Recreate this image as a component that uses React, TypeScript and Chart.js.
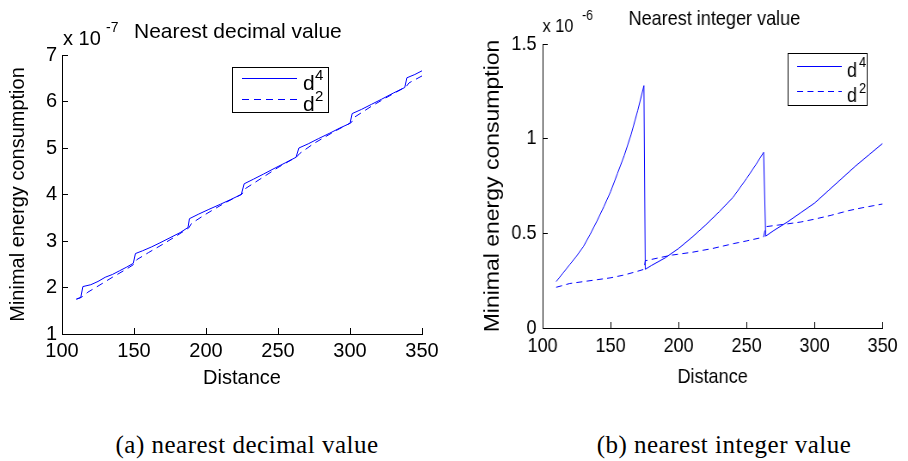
import React, { useEffect, useRef } from "react";
import { Chart, registerables } from "chart.js";

Chart.register(...registerables);

const SANS = '"Liberation Sans", Arial, Helvetica, sans-serif';
const SERIF = '"Liberation Serif", "Times New Roman", Times, serif';
const BLUE = "rgb(0,0,255)";

// Shared distance axis
const distTicks = [100, 150, 200, 250, 300, 350];

// (a) nearest decimal value — energy in units of 1e-7
const decDistD4 = [110, 113, 114.5, 120, 125, 130, 135, 140, 145, 149.5, 151, 156, 162, 168, 175, 182, 187.5, 188.5, 195, 202, 210, 217, 224.5, 226.5, 233, 240, 248, 255, 262.5, 264.5, 271, 278, 286, 293, 300, 301.5, 308, 315, 322, 330, 338, 339.5, 345, 350];
const decEnergyD4 = [1.75, 1.78, 2.02, 2.06, 2.13, 2.22, 2.28, 2.36, 2.44, 2.52, 2.73, 2.79, 2.87, 2.96, 3.07, 3.18, 3.29, 3.48, 3.58, 3.68, 3.79, 3.89, 4.0, 4.23, 4.33, 4.44, 4.57, 4.68, 4.8, 5.0, 5.09, 5.2, 5.32, 5.43, 5.53, 5.74, 5.83, 5.94, 6.05, 6.18, 6.3, 6.51, 6.58, 6.66];
const decDistD2 = [110, 114, 118, 125, 135, 145, 150, 152, 160, 170, 180, 188, 190, 200, 212, 225, 227, 240, 250, 263, 265, 275, 290, 301, 303, 315, 325, 339, 341, 350];
const decEnergyD2 = [1.75, 1.8, 1.9, 2.03, 2.22, 2.4, 2.5, 2.6, 2.75, 2.93, 3.12, 3.28, 3.38, 3.58, 3.8, 4.01, 4.12, 4.38, 4.58, 4.81, 4.88, 5.1, 5.37, 5.55, 5.66, 5.9, 6.08, 6.32, 6.4, 6.55];
const decTicksY = [1, 2, 3, 4, 5, 6, 7];

// (b) nearest integer value — energy in units of 1e-6
const intDistD4 = [110, 115, 120, 125, 130, 135, 140, 145, 150, 155, 160, 165, 170, 174.5, 175.5, 180, 190, 200, 210, 220, 230, 240, 250, 257, 262.5, 264, 270, 280, 290, 300, 310, 320, 330, 340, 350];
const intEnergyD4 = [0.245, 0.29, 0.335, 0.38, 0.43, 0.495, 0.565, 0.64, 0.72, 0.815, 0.91, 1.02, 1.15, 1.28, 0.31, 0.33, 0.37, 0.42, 0.48, 0.545, 0.615, 0.69, 0.79, 0.865, 0.928, 0.485, 0.515, 0.56, 0.61, 0.66, 0.725, 0.79, 0.855, 0.915, 0.975];
const intDistD2 = [110, 120, 130, 140, 150, 160, 170, 174.5, 175.5, 185, 195, 210, 225, 240, 250, 262.5, 264, 280, 290, 300, 312, 325, 335, 350];
const intEnergyD2 = [0.215, 0.235, 0.245, 0.255, 0.265, 0.28, 0.3, 0.31, 0.355, 0.37, 0.385, 0.4, 0.42, 0.445, 0.46, 0.48, 0.535, 0.55, 0.56, 0.575, 0.595, 0.62, 0.635, 0.655];
const intTicksY = [0, 0.5, 1, 1.5];

const exponents = ["4", "2"];

const toPoints = (xs: number[], ys: number[]) => xs.map((x, i) => ({ x, y: ys[i] }));

type LegendSpec = {
  box: [number, number, number, number];
  lineX: [number, number];
  rowY: [number, number];
  textX: number;
  textBase: [number, number];
  supX: number;
  supBase: [number, number];
  font: string;
  supFont: string;
};

type Panel = {
  d4: { x: number; y: number }[];
  d2: { x: number; y: number }[];
  yMin: number;
  yMax: number;
  yTicks: number[];
  canvasWidth: number;
  squeeze: number;
  tickSize: number;
  padding: { top: number; right: number };
  yWidth: number;
  xHeight: number;
  tickPadX: number;
  tickPadY: number;
  yTitleSize: number;
  yTitlePad: number;
  xTitlePad: number;
  overlay: (ctx: CanvasRenderingContext2D) => void;
};

function drawLegend(ctx: CanvasRenderingContext2D, L: LegendSpec) {
  const [bx, by, bw, bh] = L.box;
  ctx.fillStyle = "#fff";
  ctx.fillRect(bx, by, bw, bh);
  ctx.strokeStyle = "#000";
  ctx.lineWidth = 1;
  ctx.setLineDash([]);
  ctx.strokeRect(bx + 0.5, by + 0.5, bw, bh);
  exponents.forEach((exp, i) => {
    ctx.strokeStyle = BLUE;
    ctx.lineWidth = 1;
    ctx.setLineDash(i === 0 ? [] : [7, 5]);
    ctx.beginPath();
    ctx.moveTo(L.lineX[0], L.rowY[i] + 0.5);
    ctx.lineTo(L.lineX[1], L.rowY[i] + 0.5);
    ctx.stroke();
    ctx.setLineDash([]);
    ctx.fillStyle = "#000";
    ctx.textBaseline = "alphabetic";
    ctx.textAlign = "left";
    ctx.font = L.font;
    ctx.fillText("d", L.textX, L.textBase[i]);
    ctx.font = L.supFont;
    ctx.fillText(exp, L.supX, L.supBase[i]);
  });
}

function drawText(ctx: CanvasRenderingContext2D, text: string, x: number, y: number, font: string) {
  ctx.fillStyle = "#000";
  ctx.font = font;
  ctx.textAlign = "left";
  ctx.textBaseline = "alphabetic";
  ctx.fillText(text, x, y);
}

const decimalPanel: Panel = {
  d4: toPoints(decDistD4, decEnergyD4),
  d2: toPoints(decDistD2, decEnergyD2),
  yMin: 1,
  yMax: 7,
  yTicks: decTicksY,
  canvasWidth: 454,
  squeeze: 1,
  tickSize: 20,
  padding: { top: 55, right: 32 },
  yWidth: 62,
  xHeight: 66,
  tickPadX: 11,
  tickPadY: 11,
  yTitleSize: 20,
  yTitlePad: 6,
  xTitlePad: 10,
  overlay: (ctx) => {
    drawText(ctx, "Nearest decimal value", 134, 38, `21px ${SANS}`);
    drawText(ctx, "x 10", 63, 45, `20px ${SANS}`);
    drawText(ctx, "-7", 106, 32, `14px ${SANS}`);
    drawLegend(ctx, {
      box: [232, 67, 96, 45],
      lineX: [242, 297],
      rowY: [78, 99],
      textX: 303,
      textBase: [90, 111],
      supX: 315,
      supBase: [80, 101],
      font: `21px ${SANS}`,
      supFont: `15px ${SANS}`,
    });
  },
};

// panel (b) is drawn on a wider canvas and squeezed horizontally to 454px
const integerPanel: Panel = {
  d4: toPoints(intDistD4, intEnergyD4),
  d2: toPoints(intDistD2, intEnergyD2),
  yMin: 0,
  yMax: 1.5,
  yTicks: intTicksY,
  canvasWidth: 528,
  squeeze: 454 / 528,
  tickSize: 21,
  padding: { top: 44, right: 20 },
  yWidth: 103,
  xHeight: 72,
  tickPadX: 12,
  tickPadY: 13,
  yTitleSize: 23,
  yTitlePad: 32,
  xTitlePad: 10,
  overlay: (ctx) => {
    drawText(ctx, "Nearest integer value", 203, 25, `21px ${SANS}`);
    drawText(ctx, "x 10", 103, 32, `19px ${SANS}`);
    drawText(ctx, "-6", 149, 20, `14px ${SANS}`);
    drawLegend(ctx, {
      box: [388, 53, 92, 52],
      lineX: [399, 451],
      rowY: [66, 91],
      textX: 457,
      textBase: [77, 102],
      supX: 471,
      supBase: [67, 93],
      font: `21px ${SANS}`,
      supFont: `15px ${SANS}`,
    });
  },
};

function makeConfig(p: Panel): any {
  const tickFont = { family: SANS, size: p.tickSize };
  return {
    type: "line",
    data: {
      datasets: [
        {
          label: "d4",
          data: p.d4,
          borderColor: BLUE,
          borderWidth: 1,
          pointRadius: 0,
          tension: 0,
          fill: false,
        },
        {
          label: "d2",
          data: p.d2,
          borderColor: BLUE,
          borderWidth: 1,
          borderDash: [7, 5],
          pointRadius: 0,
          tension: 0,
          fill: false,
        },
      ],
    },
    options: {
      responsive: false,
      animation: false,
      devicePixelRatio: 1,
      layout: { padding: { left: 0, top: p.padding.top, right: p.padding.right, bottom: 0 } },
      plugins: { legend: { display: false }, title: { display: false }, tooltip: { enabled: false } },
      scales: {
        x: {
          type: "linear",
          min: 100,
          max: 350,
          afterBuildTicks: (s: any) => {
            s.ticks = distTicks.map((v) => ({ value: v }));
          },
          afterFit: (s: any) => {
            s.height = p.xHeight;
          },
          grid: { drawOnChartArea: false, color: "#000", tickLength: -6, lineWidth: 1 },
          border: { color: "#000", width: 1 },
          ticks: {
            color: "#000",
            font: tickFont,
            padding: p.tickPadX,
            maxRotation: 0,
            autoSkip: false,
            callback: (v: any) => String(v),
          },
          title: {
            display: true,
            text: "Distance",
            color: "#000",
            font: { family: SANS, size: p.tickSize },
            padding: { top: 0, bottom: p.xTitlePad },
          },
        },
        y: {
          type: "linear",
          min: p.yMin,
          max: p.yMax,
          afterBuildTicks: (s: any) => {
            s.ticks = p.yTicks.map((v) => ({ value: v }));
          },
          afterFit: (s: any) => {
            s.width = p.yWidth;
          },
          grid: { drawOnChartArea: false, color: "#000", tickLength: -6, lineWidth: 1 },
          border: { color: "#000", width: 1 },
          ticks: {
            color: "#000",
            font: tickFont,
            padding: p.tickPadY,
            autoSkip: false,
            callback: (v: any) => String(v),
          },
          title: {
            display: true,
            text: "Minimal energy consumption",
            color: "#000",
            font: { family: SANS, size: p.yTitleSize },
            padding: { top: p.yTitlePad, bottom: 0 },
          },
        },
      },
    },
    plugins: [
      {
        id: "panelOverlay",
        afterDraw(chart: any) {
          const ctx = chart.ctx as CanvasRenderingContext2D;
          ctx.save();
          p.overlay(ctx);
          ctx.restore();
        },
      },
    ],
  };
}

function PanelChart({ panel, left }: { panel: Panel; left: number }) {
  const ref = useRef<HTMLCanvasElement | null>(null);
  useEffect(() => {
    if (!ref.current) return;
    const chart = new Chart(ref.current, makeConfig(panel));
    return () => chart.destroy();
  }, [panel]);
  return (
    <div
      style={{
        position: "absolute",
        left,
        top: 0,
        width: panel.canvasWidth,
        height: 400,
        transform: `scaleX(${panel.squeeze})`,
        transformOrigin: "0 0",
      }}
    >
      <canvas
        ref={ref}
        width={panel.canvasWidth}
        height={400}
        style={{ display: "block", width: panel.canvasWidth, height: 400 }}
      />
    </div>
  );
}

const captionStyle = (center: number): React.CSSProperties => ({
  position: "absolute",
  left: center - 200,
  width: 400,
  top: 431,
  textAlign: "center",
  fontFamily: SERIF,
  fontSize: 25,
  lineHeight: "28px",
  letterSpacing: "0.5px",
  color: "#000",
  whiteSpace: "nowrap",
});

export default function App() {
  return (
    <div
      style={{
        position: "absolute",
        left: 0,
        top: 0,
        width: 908,
        height: 461,
        background: "#fff",
        overflow: "hidden",
      }}
    >
      <PanelChart panel={decimalPanel} left={0} />
      <PanelChart panel={integerPanel} left={454} />
      <div style={captionStyle(247)}>(a) nearest decimal value</div>
      <div style={captionStyle(724)}>(b) nearest integer value</div>
    </div>
  );
}
